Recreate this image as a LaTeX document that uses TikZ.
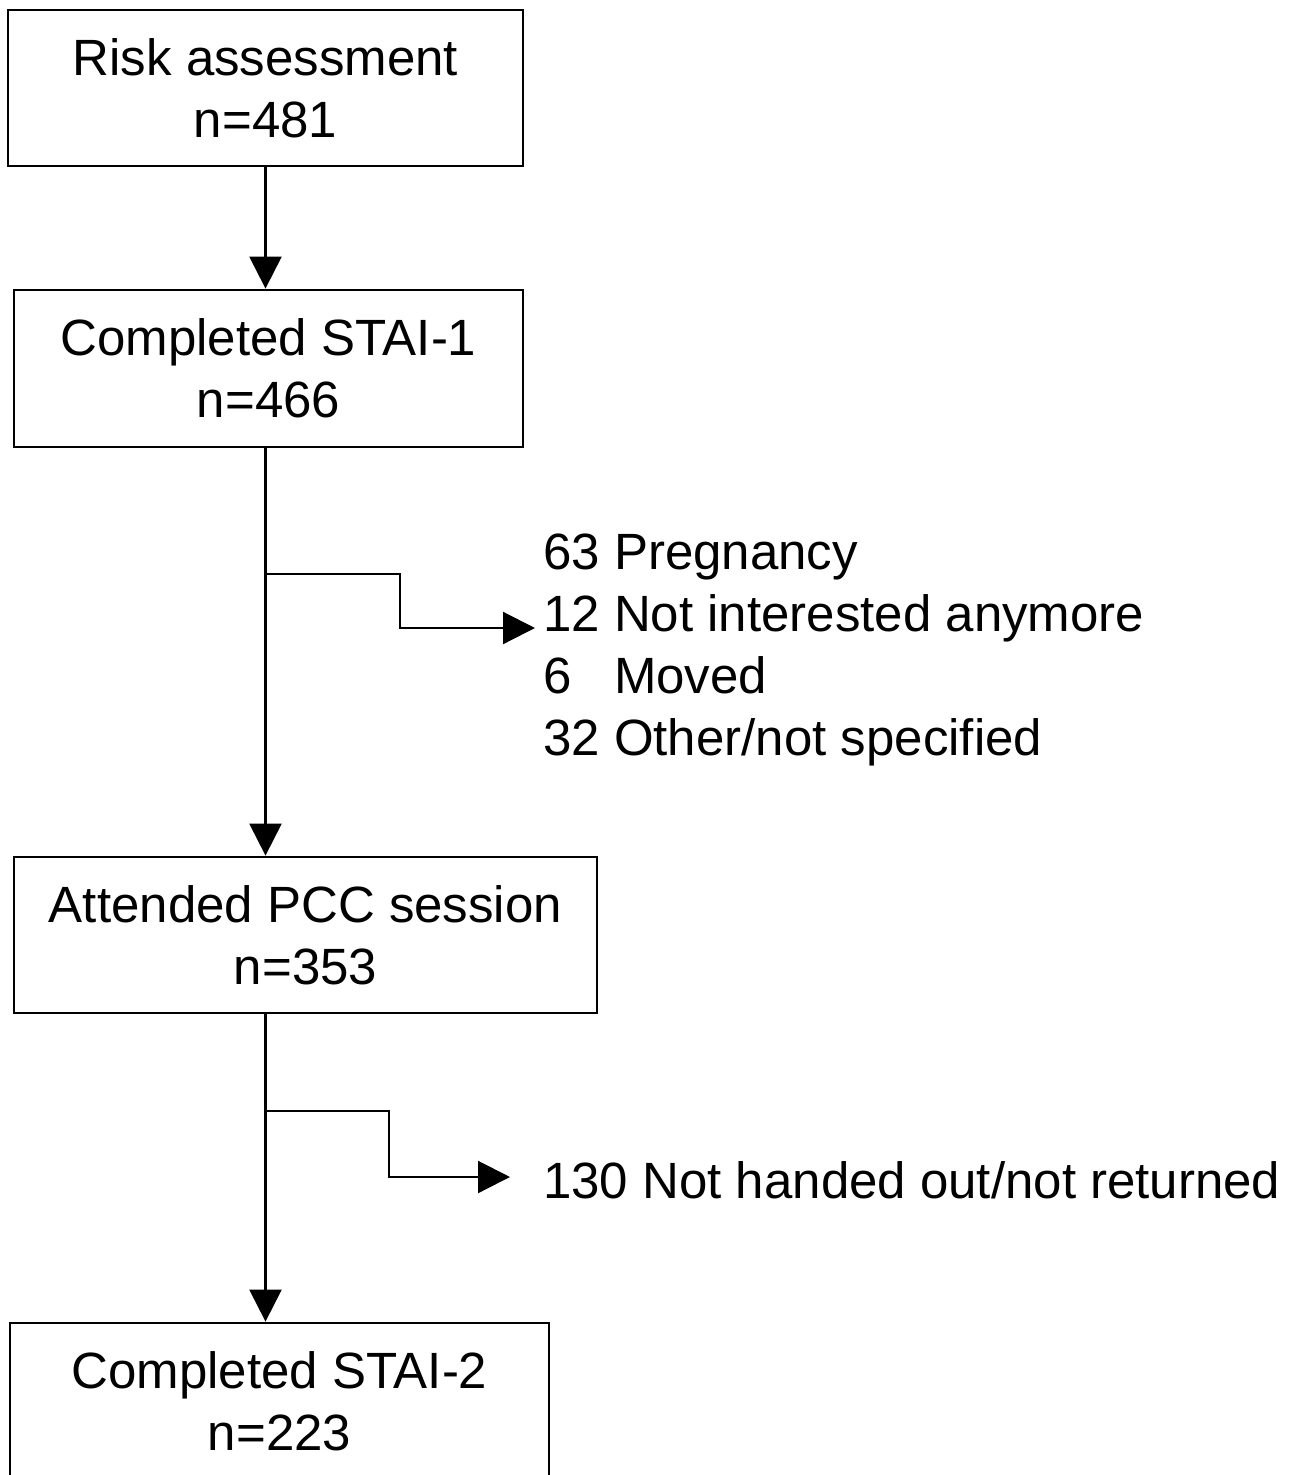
\documentclass[tikz,border=0pt]{standalone}
\usepackage{fontspec}
\setmainfont{Liberation Sans}
\usetikzlibrary{arrows.meta}
\tikzset{
  flowbox/.style={draw,line width=2.8pt,align=center,inner sep=0pt,font=\fontsize{51}{62}\selectfont},
  flowline/.style={line width=2.2pt},
  flowarrow/.style={flowline,-{Triangle[length=32pt,width=32pt]}},
  dropnote/.style={anchor=west,align=left,inner sep=0pt,font=\fontsize{51}{61.7}\selectfont}
}
\begin{document}
\begin{tikzpicture}[x=1pt,y=-1pt]
\clip (0,0) rectangle (1297,1475);

%Shape: Rectangle [id:risk]
\node [flowbox,minimum width=515pt,minimum height=156pt] (risk) at (265.5,88) {Risk assessment\\n=481};
%Shape: Rectangle [id:stai1]
\node [flowbox,minimum width=509pt,minimum height=157pt] (stai1) at (268.5,368.5) {Completed STAI-1\\n=466};
%Shape: Rectangle [id:pcc]
\node [flowbox,minimum width=583pt,minimum height=156pt] (pcc) at (305.5,935) {Attended PCC session\\n=353};
%Shape: Rectangle [id:stai2]
\node [flowbox,minimum width=539pt,minimum height=156pt] (stai2) at (279.5,1401) {Completed STAI-2\\n=223};

% Text Node
\node [dropnote] (reasons) at (543,650) {63 Pregnancy\\12 Not interested anymore\\6\phantom{3} Moved\\32 Other/not specified};
% Text Node
\node [dropnote] (noreturn) at (543,1180) {130 Not handed out/not returned};

%Straight Lines
\draw [flowarrow] (risk.south) -- (risk.south |- stai1.north);
\draw [flowarrow] (risk.south |- stai1.south) -- (risk.south |- pcc.north);
\draw [flowarrow] (risk.south |- pcc.south) -- (risk.south |- stai2.north);

%Elbow Lines
\coordinate (split1) at (266,574);
\coordinate (turn1) at (400,628);
\draw [flowarrow] (split1) -| (turn1) -- ([xshift=-8pt]reasons.west |- turn1);
\coordinate (split2) at (266,1111);
\coordinate (turn2) at (389,1177);
\draw [flowarrow] (split2) -| (turn2) -- ([xshift=-33pt]noreturn.west |- turn2);

\end{tikzpicture}
\end{document}
